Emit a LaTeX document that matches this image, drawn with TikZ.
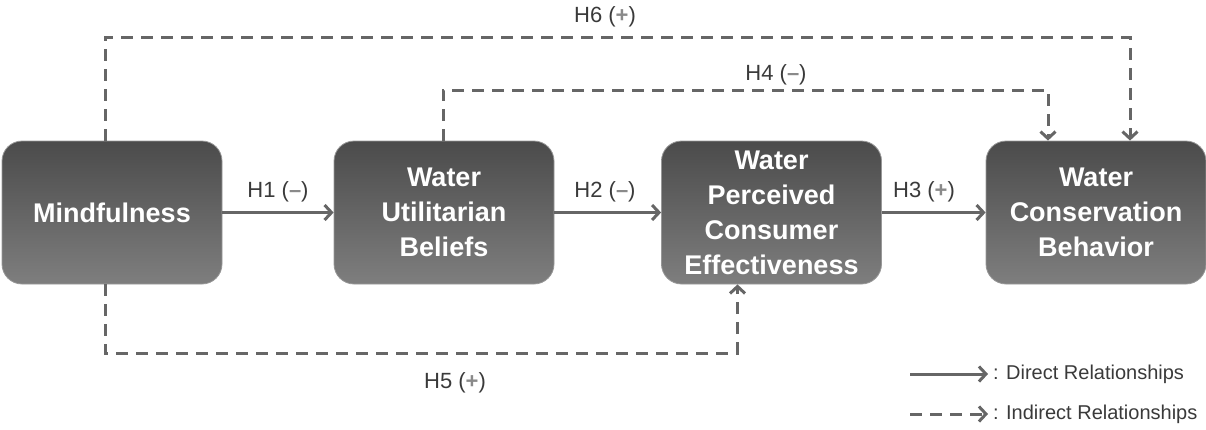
\documentclass[tikz,border=0pt]{standalone}
\usepackage{fontspec}
\setmainfont{Liberation Sans}
\usepackage{xcolor}
\usetikzlibrary{arrows.meta,positioning,calc}

\definecolor{linegray}{HTML}{666666}
\definecolor{boxtop}{HTML}{4B4B4B}
\definecolor{boxbot}{HTML}{7E7E7E}
\definecolor{labgray}{HTML}{3A3A3A}
\definecolor{signgray}{HTML}{8A8A8A}

\newcommand{\sgn}[1]{\textcolor{signgray}{\textbf{#1}}}

\tikzset{
  construct/.style={draw=boxbot!80!white, line width=0.8pt, rounded corners=20pt,
    top color=boxtop, bottom color=boxbot, minimum width=220pt, minimum height=143pt,
    text=white, align=center, font=\fontsize{27}{35}\selectfont\bfseries, inner sep=0pt},
  direct/.style={draw=linegray, line width=3pt, -{Straight Barb[length=7pt,width=15pt,line width=3pt]}},
  indirect/.style={direct, dash pattern=on 12pt off 8pt},
  hyp/.style={text=labgray, font=\fontsize{22}{26}\selectfont},
  legtext/.style={text=labgray, font=\fontsize{20}{24}\selectfont, anchor=west, inner sep=0pt}
}

\begin{document}
\begin{tikzpicture}[x=1pt,y=-1pt]
	\useasboundingbox (0,0) rectangle (1206,429);
	% constructs
	\node[construct] (mind) at (112,212.5) {Mindfulness};
	\node[construct] (bel) at (444,212.5) {Water\\Utilitarian\\Beliefs};
	\node[construct] (pce) at (771.5,212.5) {Water\\Perceived\\Consumer\\Effectiveness};
	\node[construct] (wcb) at (1096,212.5) {Water\\Conservation\\Behavior};
	% direct paths
	\draw[direct] (mind) -- (bel);
	\draw[direct] (bel) -- (pce);
	\draw[direct] (pce) -- (wcb);
	\node[hyp] (h1) at (278,192) {H1 (\sgn{--})};
	\node[hyp] (h2) at (605,192) {H2 (\sgn{--})};
	\node[hyp] (h3) at (924,192) {H3 (\sgn{+})};
	% indirect paths
	\coordinate (c6) at (105,37);
	\coordinate (c4) at (443,90);
	\coordinate (c5) at (105,353);
	\draw[indirect] (mind.north -| c6) -- (c6) -| ([xshift=34pt]wcb.north);
	\draw[indirect] (bel.north -| c4) -- (c4) -| ([xshift=-48pt]wcb.north);
	\draw[indirect] (mind.south -| c5) -- (c5) -| ([xshift=-34pt]pce.south);
	\node[hyp] (h6) at (605,17) {H6 (\sgn{+})};
	\node[hyp] (h4) at (776,75) {H4 (\sgn{--})};
	\node[hyp] (h5) at (455,383) {H5 (\sgn{+})};
	% legend
	\node[legtext] (ldir) at (993,374) {: Direct Relationships};
	\node[legtext] (lind) at (993,414) {: Indirect Relationships};
	\coordinate (ld) at (910,374);
	\coordinate (li) at (910,414);
	\draw[direct] (ld) -- ([xshift=-5pt]ldir.west);
	\draw[indirect] (li) -- ([xshift=-5pt]lind.west);
\end{tikzpicture}
\end{document}
